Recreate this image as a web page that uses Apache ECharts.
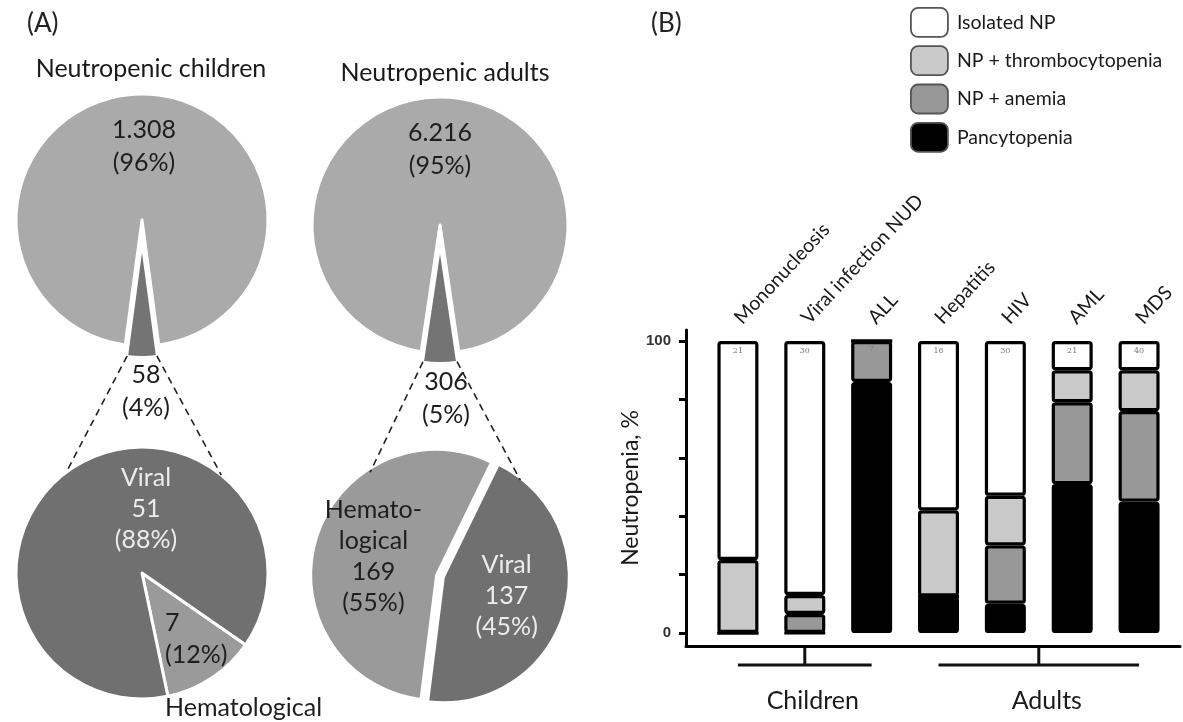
<!DOCTYPE html>
<html>
<head>
<meta charset="utf-8">
<script src="https://cdn.jsdelivr.net/npm/echarts@6/dist/echarts.min.js"></script>
<style>
  html, body { margin: 0; padding: 0; background: #fff; }
  #chart { width: 1183px; height: 722px; }
</style>
</head>
<body>
<div id="chart"></div>
<script>
// ---- Panel A data: neutropenic episodes and their causes ----
const childrenTotals = [1308, 58];        // other causes, viral + hematological
const adultsTotals = [6216, 306];
const childCauseNames = ['Hematological', 'Viral'];
const childCauseValues = [7, 51];
const adultCauseNames = ['Viral', 'Hematological'];
const adultCauseValues = [137, 169];

// ---- Panel B data: cytopenia pattern per diagnosis (% of episodes) ----
const diseases = ['Mononucleosis', 'Viral infection NUD', 'ALL', 'Hepatitis', 'HIV', 'AML', 'MDS'];
const patientCounts = ['21', '30', '7', '16', '30', '21', '40'];
const isolatedNP = [75, 87, 0, 58, 53, 10, 10];
const npThrombocytopenia = [25, 6.5, 0, 29.5, 17, 11, 14];
const npAnemia = [0, 6.5, 14, 0, 20, 28, 31];
const pancytopenia = [0, 0, 86, 12.5, 10, 51, 45];
const seriesNames = ['Isolated NP', 'NP + thrombocytopenia', 'NP + anemia', 'Pancytopenia'];
const groups = [
  { label: 'Children', from: 0, to: 2 },
  { label: 'Adults', from: 3, to: 6 }
];
const yTicks = [0, 20, 40, 60, 80, 100];
const yTickLabels = [0, 100];

// ---- layout ----
const FONT = 'Lato';
const PIE = {
  children: { top: [142, 220], topR: 126, inset: [142, 245], insetR: 112, bottom: [142, 573], bottomR: 126, links: [127, 51] },
  adults:   { top: [440, 225], topR: 128, inset: [440, 247], insetR: 116, bottom: [440, 576], bottomR: 125, links: [124, 50] }
};
const C_LIGHT = '#aaaaaa', C_DARK = '#747474', C_MID = '#9a9a9a', C_VIRAL = '#707070';
const TXT_DARK = '#1e1e1e', TXT_LIGHT = '#ececec';
const PIE_FONT = 25, PIE_LINE = 33;

const sum = a => a.reduce((s, v) => s + v, 0);
const thousands = v => String(v).replace(/\B(?=(\d{3})+(?!\d))/g, '.');
const pct = (v, arr) => Math.round(v / sum(arr) * 100) + '%';
const NONE = { color: 'rgba(0,0,0,0)', borderWidth: 0 };

const pieBase = {
  type: 'pie', silent: true, animation: false, clockwise: true,
  avoidLabelOverlap: false, labelLine: { show: false }, emphasis: { disabled: true }
};
const labelStyle = (color) => ({
  show: true, position: 'inside', color: color, fontFamily: FONT, fontSize: PIE_FONT, lineHeight: PIE_LINE
});
const placeAt = (center, offsets) => p => {
  const o = offsets[p.dataIndex];
  return { x: center[0] + o[0], y: center[1] + o[1], align: o[2] || 'center', verticalAlign: o[3] || 'middle' };
};

// overview pie: large share plus a pulled-out wedge drawn by a second, smaller pie
function overviewPies(values, L, bigOff, smallOff) {
  const start = 270 - 180 * values[1] / sum(values);
  const text = v => thousands(v) + '\n(' + pct(v, values) + ')';
  return [
    Object.assign({}, pieBase, {
      center: L.top, radius: L.topR, startAngle: start,
      data: [
        { value: values[0], itemStyle: { color: C_LIGHT, borderColor: '#fff', borderWidth: 3 },
          label: Object.assign(labelStyle(TXT_DARK), { formatter: text(values[0]) }) },
        { value: values[1], itemStyle: NONE, label: { show: false } }
      ],
      labelLayout: placeAt(L.top, [bigOff, bigOff])
    }),
    Object.assign({}, pieBase, {
      center: L.inset, radius: L.insetR, startAngle: start,
      data: [
        { value: values[0], itemStyle: NONE, label: { show: false } },
        { value: values[1], itemStyle: { color: C_DARK, borderColor: '#fff', borderWidth: 2 },
          label: Object.assign(labelStyle(TXT_DARK), { formatter: text(values[1]) }) }
      ],
      labelLayout: placeAt(L.top, [smallOff, smallOff])
    })
  ];
}

const pieSeries = [].concat(
  overviewPies(childrenTotals, PIE.children, [2, -74], [4, 171]),
  overviewPies(adultsTotals, PIE.adults, [0, -76], [6, 173]),
  [
    // causes in children
    Object.assign({}, pieBase, {
      center: PIE.children.bottom, radius: PIE.children.bottomR, startAngle: 325.3,
      data: [
        { value: childCauseValues[0], name: childCauseNames[0],
          itemStyle: { color: C_MID, borderColor: '#fff', borderWidth: 3 },
          label: {
            show: true, position: 'inside', fontFamily: FONT, color: TXT_DARK,
            formatter: '{v|' + childCauseValues[0] + '}\n{v|(' + pct(childCauseValues[0], childCauseValues) + ')}\n{n|' + childCauseNames[0] + '}',
            rich: {
              v: { fontFamily: FONT, fontSize: PIE_FONT, lineHeight: 32, color: TXT_DARK },
              n: { fontFamily: FONT, fontSize: PIE_FONT, lineHeight: 74, color: TXT_DARK }
            }
          } },
        { value: childCauseValues[1], name: childCauseNames[1],
          itemStyle: { color: C_VIRAL, borderColor: '#fff', borderWidth: 3 },
          label: Object.assign(labelStyle(TXT_LIGHT), {
            lineHeight: 31,
            formatter: childCauseNames[1] + '\n' + childCauseValues[1] + '\n(' + pct(childCauseValues[1], childCauseValues) + ')' }) }
      ],
      labelLayout: placeAt(PIE.children.bottom, [[23, 34, 'left', 'top'], [4, -64]])
    }),
    // causes in adults, both wedges pulled apart
    Object.assign({}, pieBase, {
      center: PIE.adults.bottom, radius: PIE.adults.bottomR, startAngle: 64,
      selectedMode: 'multiple', selectedOffset: 4,
      data: adultCauseNames.map((n, i) => ({
        value: adultCauseValues[i], name: n, selected: true,
        itemStyle: { color: n === 'Viral' ? C_VIRAL : C_MID, borderColor: '#fff', borderWidth: 2 },
        label: Object.assign(labelStyle(n === 'Viral' ? TXT_LIGHT : TXT_DARK), {
          lineHeight: 31,
          formatter: (n === 'Viral' ? n : 'Hemato-\nlogical') + '\n' + adultCauseValues[i] + '\n(' + pct(adultCauseValues[i], adultCauseValues) + ')' })
      })),
      labelLayout: placeAt(PIE.adults.bottom, [[72, -10], [-46, -28]])
    })
  ]
);

// ---- Panel B bars ----
const BAR_TOP = 341, BAR_BOTTOM = 633, FRAME_TOP = 330, FRAME_BOTTOM = 646;
const pxPerUnit = (BAR_BOTTOM - BAR_TOP) / 100;
const barColors = ['#ffffff', '#c9c9c9', '#989898', '#000000'];
const barValues = [isolatedNP, npThrombocytopenia, npAnemia, pancytopenia];

// stacked bottom-up: pancytopenia first
const barSeries = [3, 2, 1, 0].map(k => ({
  type: 'bar', name: seriesNames[k], stack: 'np', xAxisIndex: 0, yAxisIndex: 0,
  data: barValues[k], barWidth: 41, animation: false, silent: true,
  itemStyle: { color: barColors[k], borderColor: '#000', borderWidth: 3.2, borderRadius: 2 },
  label: k === 0 ? {
    show: true, position: 'insideTop', distance: 6, fontSize: 8, color: '#777', fontFamily: 'DejaVu Serif',
    formatter: p => patientCounts[p.dataIndex]
  } : { show: false }
}));

const option = {
  backgroundColor: '#fff',
  animation: false,
  title: [
    { text: '(A)', left: 22, top: 6, textStyle: { fontFamily: FONT, fontSize: 26, fontWeight: 'normal', color: '#222' } },
    { text: '(B)', left: 646, top: 6, textStyle: { fontFamily: FONT, fontSize: 26, fontWeight: 'normal', color: '#222' } },
    { text: 'Neutropenic children', left: 146, top: 51, textAlign: 'center', textStyle: { fontFamily: FONT, fontSize: 25, fontWeight: 'normal', color: '#1a1a1a' } },
    { text: 'Neutropenic adults', left: 440, top: 55, textAlign: 'center', textStyle: { fontFamily: FONT, fontSize: 25, fontWeight: 'normal', color: '#1a1a1a' } }
  ],
  legend: {
    data: seriesNames, orient: 'vertical', left: 910, top: 7, padding: 0,
    itemWidth: 37, itemHeight: 29, itemGap: 7.5, selectedMode: false,
    itemStyle: { borderColor: '#555', borderWidth: 1.8 },
    textStyle: { fontFamily: FONT, fontSize: 19.5, color: '#1a1a1a', padding: [0, 0, 0, 4] }
  },
  grid: [
    { left: 704.5, right: 10.5, top: BAR_TOP, bottom: 722 - BAR_BOTTOM },
    { left: 686, right: 3, top: FRAME_TOP, bottom: 722 - FRAME_BOTTOM }
  ],
  xAxis: [
    { gridIndex: 0, type: 'category', data: diseases, position: 'top',
      axisLine: { show: false }, axisTick: { show: false },
      axisLabel: { interval: 0, rotate: 47, margin: 20, fontFamily: FONT, fontSize: 19.5, color: '#1a1a1a' } },
    { gridIndex: 1, type: 'value', min: 0, max: 1,
      axisLine: { show: true, onZero: false, lineStyle: { color: '#000', width: 3 } },
      axisTick: { show: false }, axisLabel: { show: false }, splitLine: { show: false } }
  ],
  yAxis: [
    { gridIndex: 0, type: 'value', min: 0, max: 100, show: false },
    { gridIndex: 1, type: 'value',
      min: -(FRAME_BOTTOM - BAR_BOTTOM) / pxPerUnit, max: 100 + (BAR_TOP - FRAME_TOP) / pxPerUnit,
      name: 'Neutropenia, %', nameLocation: 'middle', nameGap: 35,
      nameTextStyle: { fontFamily: FONT, fontSize: 23, color: '#1a1a1a' },
      axisLine: { show: true, lineStyle: { color: '#000', width: 3 } },
      axisTick: { show: true, length: 7, customValues: yTicks, lineStyle: { color: '#000', width: 3 } },
      axisLabel: { customValues: yTickLabels, fontFamily: 'Liberation Sans', fontWeight: 'bold', fontSize: 15, color: '#333', margin: 15 },
      splitLine: { show: false } }
  ],
  series: pieSeries.concat(barSeries)
};

const chart = echarts.init(document.getElementById('chart'), null, { renderer: 'canvas' });
chart.setOption(option);

// ---- decorations placed from the computed layout ----
const graphics = [];
const rad = d => d * Math.PI / 180;
// dashed connectors from each pulled-out wedge to its breakdown pie
[[PIE.children, childrenTotals], [PIE.adults, adultsTotals]].forEach(([L, vals]) => {
  const half = rad(180 * vals[1] / sum(vals));
  const starts = [
    [L.inset[0] - L.insetR * Math.sin(half), L.inset[1] + L.insetR * Math.cos(half)],
    [L.inset[0] + L.insetR * Math.sin(half), L.inset[1] + L.insetR * Math.cos(half)]
  ];
  L.links.forEach((a, i) => {
    const end = [L.bottom[0] + L.bottomR * Math.cos(rad(a)), L.bottom[1] - L.bottomR * Math.sin(rad(a))];
    graphics.push({ type: 'line', z: 10, silent: true,
      shape: { x1: starts[i][0], y1: starts[i][1], x2: end[0], y2: end[1] },
      style: { stroke: '#222', lineWidth: 1.6, lineDash: [7, 5] } });
  });
});
// group brackets under the bars
const axisY = chart.convertToPixel({ yAxisIndex: 1 }, -(FRAME_BOTTOM - BAR_BOTTOM) / pxPerUnit);
groups.forEach(g => {
  const x1 = chart.convertToPixel({ xAxisIndex: 0 }, diseases[g.from]);
  const x2 = chart.convertToPixel({ xAxisIndex: 0 }, diseases[g.to]);
  const xm = (x1 + x2) / 2;
  const yb = axisY + 19;
  graphics.push({ type: 'line', silent: true, shape: { x1: xm, y1: axisY, x2: xm, y2: yb }, style: { stroke: '#111', lineWidth: 3 } });
  graphics.push({ type: 'line', silent: true, shape: { x1: x1, y1: yb, x2: x2, y2: yb }, style: { stroke: '#111', lineWidth: 3 } });
  graphics.push({ type: 'text', silent: true,
    style: { text: g.label, x: xm + 8, y: yb + 36, textAlign: 'center', textVerticalAlign: 'middle',
             font: '25px ' + FONT, fill: '#1a1a1a' } });
});
chart.setOption({ graphic: graphics });
</script>
</body>
</html>
